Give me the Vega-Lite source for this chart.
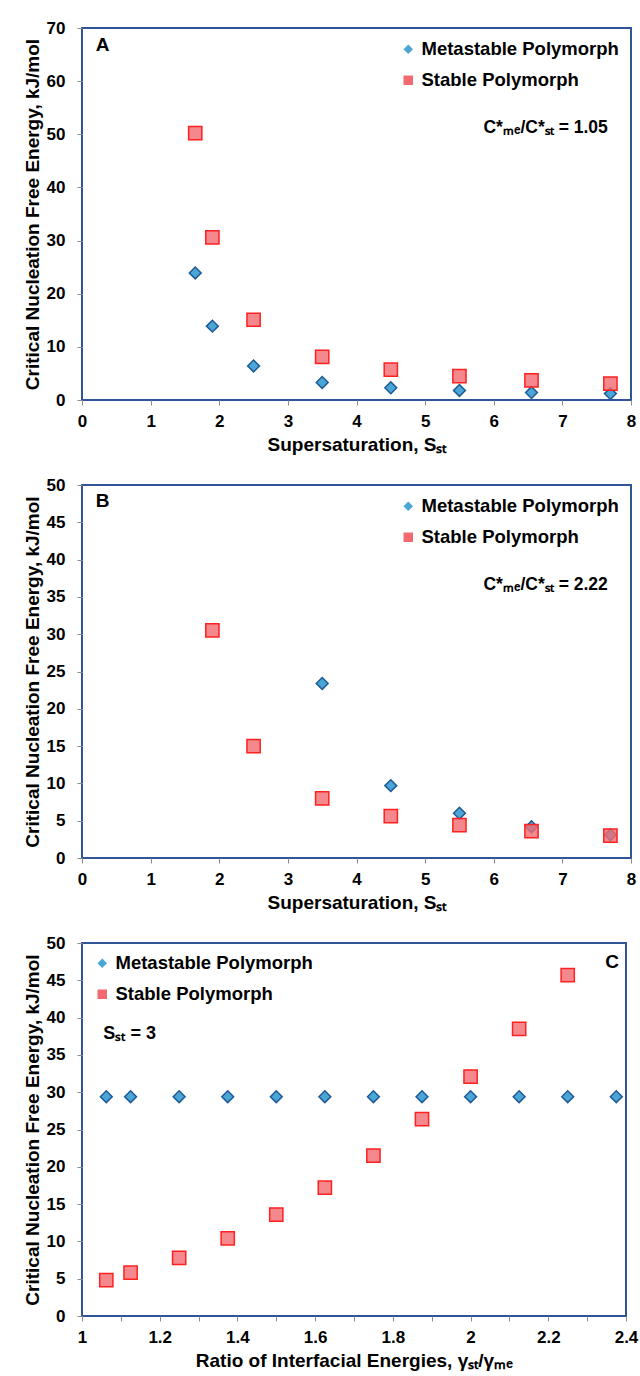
{
  "$schema": "https://vega.github.io/schema/vega-lite/v6.json",
  "background": "white",
  "padding": {"left": 22, "top": 18, "right": 0, "bottom": 0},
  "spacing": 20,
  "datasets": {
    "A": [
      {"series": "Metastable Polymorph", "S": 1.65, "G": 23.9},
      {"series": "Metastable Polymorph", "S": 1.9, "G": 13.9},
      {"series": "Metastable Polymorph", "S": 2.5, "G": 6.4},
      {"series": "Metastable Polymorph", "S": 3.5, "G": 3.3},
      {"series": "Metastable Polymorph", "S": 4.5, "G": 2.3},
      {"series": "Metastable Polymorph", "S": 5.5, "G": 1.8},
      {"series": "Metastable Polymorph", "S": 6.55, "G": 1.4},
      {"series": "Metastable Polymorph", "S": 7.7, "G": 1.2},
      {"series": "Stable Polymorph", "S": 1.65, "G": 50.2},
      {"series": "Stable Polymorph", "S": 1.9, "G": 30.6},
      {"series": "Stable Polymorph", "S": 2.5, "G": 15.1},
      {"series": "Stable Polymorph", "S": 3.5, "G": 8.1},
      {"series": "Stable Polymorph", "S": 4.5, "G": 5.7},
      {"series": "Stable Polymorph", "S": 5.5, "G": 4.5},
      {"series": "Stable Polymorph", "S": 6.55, "G": 3.7},
      {"series": "Stable Polymorph", "S": 7.7, "G": 3.1}
    ],
    "B": [
      {"series": "Metastable Polymorph", "S": 3.5, "G": 23.4},
      {"series": "Metastable Polymorph", "S": 4.5, "G": 9.7},
      {"series": "Metastable Polymorph", "S": 5.5, "G": 6.0},
      {"series": "Metastable Polymorph", "S": 6.55, "G": 4.2},
      {"series": "Metastable Polymorph", "S": 7.7, "G": 3.1},
      {"series": "Stable Polymorph", "S": 1.9, "G": 30.5},
      {"series": "Stable Polymorph", "S": 2.5, "G": 15.0},
      {"series": "Stable Polymorph", "S": 3.5, "G": 8.0},
      {"series": "Stable Polymorph", "S": 4.5, "G": 5.6},
      {"series": "Stable Polymorph", "S": 5.5, "G": 4.4},
      {"series": "Stable Polymorph", "S": 6.55, "G": 3.6},
      {"series": "Stable Polymorph", "S": 7.7, "G": 3.0}
    ],
    "C": [
      {"series": "Metastable Polymorph", "R": 1.0625, "G": 29.4},
      {"series": "Metastable Polymorph", "R": 1.125, "G": 29.4},
      {"series": "Metastable Polymorph", "R": 1.25, "G": 29.4},
      {"series": "Metastable Polymorph", "R": 1.375, "G": 29.4},
      {"series": "Metastable Polymorph", "R": 1.5, "G": 29.4},
      {"series": "Metastable Polymorph", "R": 1.625, "G": 29.4},
      {"series": "Metastable Polymorph", "R": 1.75, "G": 29.4},
      {"series": "Metastable Polymorph", "R": 1.875, "G": 29.4},
      {"series": "Metastable Polymorph", "R": 2.0, "G": 29.4},
      {"series": "Metastable Polymorph", "R": 2.125, "G": 29.4},
      {"series": "Metastable Polymorph", "R": 2.25, "G": 29.4},
      {"series": "Metastable Polymorph", "R": 2.375, "G": 29.4},
      {"series": "Stable Polymorph", "R": 1.0625, "G": 4.8},
      {"series": "Stable Polymorph", "R": 1.125, "G": 5.8},
      {"series": "Stable Polymorph", "R": 1.25, "G": 7.8},
      {"series": "Stable Polymorph", "R": 1.375, "G": 10.4},
      {"series": "Stable Polymorph", "R": 1.5, "G": 13.6},
      {"series": "Stable Polymorph", "R": 1.625, "G": 17.2},
      {"series": "Stable Polymorph", "R": 1.75, "G": 21.5},
      {"series": "Stable Polymorph", "R": 1.875, "G": 26.4},
      {"series": "Stable Polymorph", "R": 2.0, "G": 32.1},
      {"series": "Stable Polymorph", "R": 2.125, "G": 38.5},
      {"series": "Stable Polymorph", "R": 2.25, "G": 45.7}
    ]
  },
  "vconcat": [
    {
      "width": 549,
      "height": 372,
      "layer": [
        {
          "data": {"name": "A"},
          "transform": [{"filter": "datum.series === 'Metastable Polymorph'"}],
          "mark": {"type": "point", "filled": true, "size": 140, "stroke": "#1F5A92", "strokeWidth": 1.5, "opacity": 1},
          "encoding": {
            "x": {"field": "S", "type": "quantitative", "scale": {"domain": [0, 8], "nice": false}, "axis": {"values": [0, 1, 2, 3, 4, 5, 6, 7, 8], "format": "d", "title": "Supersaturation, Sₛₜ"}},
            "y": {"field": "G", "type": "quantitative", "scale": {"domain": [0, 70], "nice": false}, "axis": {"values": [0, 10, 20, 30, 40, 50, 60, 70], "format": "d", "title": "Critical Nucleation Free Energy, kJ/mol"}},
            "color": {"field": "series", "type": "nominal", "scale": {"domain": ["Metastable Polymorph", "Stable Polymorph"], "range": ["#4BA6D8", "#F26A70"]}, "legend": {"orient": "top-right"}},
            "shape": {"field": "series", "type": "nominal", "scale": {"domain": ["Metastable Polymorph", "Stable Polymorph"], "range": ["diamond", "square"]}, "legend": {"orient": "top-right"}}
          }
        },
        {
          "data": {"name": "A"},
          "transform": [{"filter": "datum.series === 'Stable Polymorph'"}],
          "mark": {"type": "point", "filled": true, "size": 175, "stroke": "#FF2020", "strokeWidth": 1.5, "fillOpacity": 0.8},
          "encoding": {
            "x": {"field": "S", "type": "quantitative", "scale": {"domain": [0, 8], "nice": false}, "axis": {"values": [0, 1, 2, 3, 4, 5, 6, 7, 8], "format": "d", "title": "Supersaturation, Sₛₜ"}},
            "y": {"field": "G", "type": "quantitative", "scale": {"domain": [0, 70], "nice": false}, "axis": {"values": [0, 10, 20, 30, 40, 50, 60, 70], "format": "d", "title": "Critical Nucleation Free Energy, kJ/mol"}},
            "color": {"field": "series", "type": "nominal", "scale": {"domain": ["Metastable Polymorph", "Stable Polymorph"], "range": ["#4BA6D8", "#F26A70"]}, "legend": {"orient": "top-right"}},
            "shape": {"field": "series", "type": "nominal", "scale": {"domain": ["Metastable Polymorph", "Stable Polymorph"], "range": ["diamond", "square"]}, "legend": {"orient": "top-right"}}
          }
        },
        {
          "data": {"values": [{}]},
          "mark": {"type": "text", "align": "left", "baseline": "middle", "fontSize": 19, "fontWeight": "bold", "font": "Liberation Sans", "color": "#000"},
          "encoding": {
            "x": {"datum": 0.2, "type": "quantitative", "scale": {"domain": [0, 8], "nice": false}, "axis": {"values": [0, 1, 2, 3, 4, 5, 6, 7, 8], "format": "d", "title": "Supersaturation, Sₛₜ"}},
            "y": {"datum": 66.8, "type": "quantitative", "scale": {"domain": [0, 70], "nice": false}, "axis": {"values": [0, 10, 20, 30, 40, 50, 60, 70], "format": "d", "title": "Critical Nucleation Free Energy, kJ/mol"}},
            "text": {"value": "A"}
          }
        },
        {
          "data": {"values": [{}]},
          "mark": {"type": "text", "align": "left", "baseline": "middle", "fontSize": 17.5, "fontWeight": "bold", "font": "Liberation Sans", "color": "#000"},
          "encoding": {
            "x": {"datum": 5.85, "type": "quantitative", "scale": {"domain": [0, 8], "nice": false}, "axis": {"values": [0, 1, 2, 3, 4, 5, 6, 7, 8], "format": "d", "title": "Supersaturation, Sₛₜ"}},
            "y": {"datum": 51.2, "type": "quantitative", "scale": {"domain": [0, 70], "nice": false}, "axis": {"values": [0, 10, 20, 30, 40, 50, 60, 70], "format": "d", "title": "Critical Nucleation Free Energy, kJ/mol"}},
            "text": {"value": "C*ₘₑ/C*ₛₜ = 1.05"}
          }
        }
      ]
    },
    {
      "width": 549,
      "height": 373,
      "layer": [
        {
          "data": {"name": "B"},
          "transform": [{"filter": "datum.series === 'Metastable Polymorph'"}],
          "mark": {"type": "point", "filled": true, "size": 140, "stroke": "#1F5A92", "strokeWidth": 1.5, "opacity": 1},
          "encoding": {
            "x": {"field": "S", "type": "quantitative", "scale": {"domain": [0, 8], "nice": false}, "axis": {"values": [0, 1, 2, 3, 4, 5, 6, 7, 8], "format": "d", "title": "Supersaturation, Sₛₜ"}},
            "y": {"field": "G", "type": "quantitative", "scale": {"domain": [0, 50], "nice": false}, "axis": {"values": [0, 5, 10, 15, 20, 25, 30, 35, 40, 45, 50], "format": "d", "title": "Critical Nucleation Free Energy, kJ/mol"}},
            "color": {"field": "series", "type": "nominal", "scale": {"domain": ["Metastable Polymorph", "Stable Polymorph"], "range": ["#4BA6D8", "#F26A70"]}, "legend": {"orient": "top-right"}},
            "shape": {"field": "series", "type": "nominal", "scale": {"domain": ["Metastable Polymorph", "Stable Polymorph"], "range": ["diamond", "square"]}, "legend": {"orient": "top-right"}}
          }
        },
        {
          "data": {"name": "B"},
          "transform": [{"filter": "datum.series === 'Stable Polymorph'"}],
          "mark": {"type": "point", "filled": true, "size": 175, "stroke": "#FF2020", "strokeWidth": 1.5, "fillOpacity": 0.8},
          "encoding": {
            "x": {"field": "S", "type": "quantitative", "scale": {"domain": [0, 8], "nice": false}, "axis": {"values": [0, 1, 2, 3, 4, 5, 6, 7, 8], "format": "d", "title": "Supersaturation, Sₛₜ"}},
            "y": {"field": "G", "type": "quantitative", "scale": {"domain": [0, 50], "nice": false}, "axis": {"values": [0, 5, 10, 15, 20, 25, 30, 35, 40, 45, 50], "format": "d", "title": "Critical Nucleation Free Energy, kJ/mol"}},
            "color": {"field": "series", "type": "nominal", "scale": {"domain": ["Metastable Polymorph", "Stable Polymorph"], "range": ["#4BA6D8", "#F26A70"]}, "legend": {"orient": "top-right"}},
            "shape": {"field": "series", "type": "nominal", "scale": {"domain": ["Metastable Polymorph", "Stable Polymorph"], "range": ["diamond", "square"]}, "legend": {"orient": "top-right"}}
          }
        },
        {
          "data": {"values": [{}]},
          "mark": {"type": "text", "align": "left", "baseline": "middle", "fontSize": 19, "fontWeight": "bold", "font": "Liberation Sans", "color": "#000"},
          "encoding": {
            "x": {"datum": 0.2, "type": "quantitative", "scale": {"domain": [0, 8], "nice": false}, "axis": {"values": [0, 1, 2, 3, 4, 5, 6, 7, 8], "format": "d", "title": "Supersaturation, Sₛₜ"}},
            "y": {"datum": 47.8, "type": "quantitative", "scale": {"domain": [0, 50], "nice": false}, "axis": {"values": [0, 5, 10, 15, 20, 25, 30, 35, 40, 45, 50], "format": "d", "title": "Critical Nucleation Free Energy, kJ/mol"}},
            "text": {"value": "B"}
          }
        },
        {
          "data": {"values": [{}]},
          "mark": {"type": "text", "align": "left", "baseline": "middle", "fontSize": 17.5, "fontWeight": "bold", "font": "Liberation Sans", "color": "#000"},
          "encoding": {
            "x": {"datum": 5.85, "type": "quantitative", "scale": {"domain": [0, 8], "nice": false}, "axis": {"values": [0, 1, 2, 3, 4, 5, 6, 7, 8], "format": "d", "title": "Supersaturation, Sₛₜ"}},
            "y": {"datum": 36.6, "type": "quantitative", "scale": {"domain": [0, 50], "nice": false}, "axis": {"values": [0, 5, 10, 15, 20, 25, 30, 35, 40, 45, 50], "format": "d", "title": "Critical Nucleation Free Energy, kJ/mol"}},
            "text": {"value": "C*ₘₑ/C*ₛₜ = 2.22"}
          }
        }
      ]
    },
    {
      "width": 544,
      "height": 373,
      "layer": [
        {
          "data": {"name": "C"},
          "transform": [{"filter": "datum.series === 'Metastable Polymorph'"}],
          "mark": {"type": "point", "filled": true, "size": 140, "stroke": "#1F5A92", "strokeWidth": 1.5, "opacity": 1},
          "encoding": {
            "x": {"field": "R", "type": "quantitative", "scale": {"domain": [1, 2.4], "nice": false, "zero": false}, "axis": {"values": [1, 1.1, 1.2, 1.3, 1.4, 1.5, 1.6, 1.7, 1.8, 1.9, 2, 2.1, 2.2, 2.3, 2.4], "format": "~g", "labelExpr": "abs(datum.value * 5 - round(datum.value * 5)) < 0.01 ? datum.label : ''", "title": "Ratio of Interfacial Energies, γₛₜ/γₘₑ"}},
            "y": {"field": "G", "type": "quantitative", "scale": {"domain": [0, 50], "nice": false}, "axis": {"values": [0, 5, 10, 15, 20, 25, 30, 35, 40, 45, 50], "format": "d", "title": "Critical Nucleation Free Energy, kJ/mol"}},
            "color": {"field": "series", "type": "nominal", "scale": {"domain": ["Metastable Polymorph", "Stable Polymorph"], "range": ["#4BA6D8", "#F26A70"]}, "legend": {"orient": "top-left", "offset": 11}},
            "shape": {"field": "series", "type": "nominal", "scale": {"domain": ["Metastable Polymorph", "Stable Polymorph"], "range": ["diamond", "square"]}, "legend": {"orient": "top-left", "offset": 11}}
          }
        },
        {
          "data": {"name": "C"},
          "transform": [{"filter": "datum.series === 'Stable Polymorph'"}],
          "mark": {"type": "point", "filled": true, "size": 175, "stroke": "#FF2020", "strokeWidth": 1.5, "fillOpacity": 0.8},
          "encoding": {
            "x": {"field": "R", "type": "quantitative", "scale": {"domain": [1, 2.4], "nice": false, "zero": false}, "axis": {"values": [1, 1.1, 1.2, 1.3, 1.4, 1.5, 1.6, 1.7, 1.8, 1.9, 2, 2.1, 2.2, 2.3, 2.4], "format": "~g", "labelExpr": "abs(datum.value * 5 - round(datum.value * 5)) < 0.01 ? datum.label : ''", "title": "Ratio of Interfacial Energies, γₛₜ/γₘₑ"}},
            "y": {"field": "G", "type": "quantitative", "scale": {"domain": [0, 50], "nice": false}, "axis": {"values": [0, 5, 10, 15, 20, 25, 30, 35, 40, 45, 50], "format": "d", "title": "Critical Nucleation Free Energy, kJ/mol"}},
            "color": {"field": "series", "type": "nominal", "scale": {"domain": ["Metastable Polymorph", "Stable Polymorph"], "range": ["#4BA6D8", "#F26A70"]}, "legend": {"orient": "top-left", "offset": 11}},
            "shape": {"field": "series", "type": "nominal", "scale": {"domain": ["Metastable Polymorph", "Stable Polymorph"], "range": ["diamond", "square"]}, "legend": {"orient": "top-left", "offset": 11}}
          }
        },
        {
          "data": {"values": [{}]},
          "mark": {"type": "text", "align": "right", "baseline": "middle", "fontSize": 19, "fontWeight": "bold", "font": "Liberation Sans", "color": "#000"},
          "encoding": {
            "x": {"datum": 2.382, "type": "quantitative", "scale": {"domain": [1, 2.4], "nice": false, "zero": false}, "axis": {"values": [1, 1.1, 1.2, 1.3, 1.4, 1.5, 1.6, 1.7, 1.8, 1.9, 2, 2.1, 2.2, 2.3, 2.4], "format": "~g", "labelExpr": "abs(datum.value * 5 - round(datum.value * 5)) < 0.01 ? datum.label : ''", "title": "Ratio of Interfacial Energies, γₛₜ/γₘₑ"}},
            "y": {"datum": 47.5, "type": "quantitative", "scale": {"domain": [0, 50], "nice": false}, "axis": {"values": [0, 5, 10, 15, 20, 25, 30, 35, 40, 45, 50], "format": "d", "title": "Critical Nucleation Free Energy, kJ/mol"}},
            "text": {"value": "C"}
          }
        },
        {
          "data": {"values": [{}]},
          "mark": {"type": "text", "align": "left", "baseline": "middle", "fontSize": 18, "fontWeight": "bold", "font": "Liberation Sans", "color": "#000"},
          "encoding": {
            "x": {"datum": 1.055, "type": "quantitative", "scale": {"domain": [1, 2.4], "nice": false, "zero": false}, "axis": {"values": [1, 1.1, 1.2, 1.3, 1.4, 1.5, 1.6, 1.7, 1.8, 1.9, 2, 2.1, 2.2, 2.3, 2.4], "format": "~g", "labelExpr": "abs(datum.value * 5 - round(datum.value * 5)) < 0.01 ? datum.label : ''", "title": "Ratio of Interfacial Energies, γₛₜ/γₘₑ"}},
            "y": {"datum": 37.8, "type": "quantitative", "scale": {"domain": [0, 50], "nice": false}, "axis": {"values": [0, 5, 10, 15, 20, 25, 30, 35, 40, 45, 50], "format": "d", "title": "Critical Nucleation Free Energy, kJ/mol"}},
            "text": {"value": "Sₛₜ = 3"}
          }
        }
      ]
    }
  ],
  "resolve": {
    "scale": {"x": "independent", "y": "independent", "color": "independent", "shape": "independent"},
    "legend": {"color": "independent", "shape": "independent"}
  },
  "config": {
    "font": "Liberation Sans",
    "view": {"stroke": "#2F5597", "strokeWidth": 2},
    "axis": {
      "labelFont": "Liberation Sans",
      "labelFontSize": 17,
      "labelFontWeight": "bold",
      "labelColor": "#000",
      "titleFont": "Liberation Sans",
      "titleFontSize": 19,
      "titleFontWeight": "bold",
      "titleColor": "#000",
      "domain": false,
      "grid": false,
      "ticks": true,
      "tickColor": "#8c8c8c",
      "tickSize": 5,
      "labelFlush": false,
      "labelOverlap": false
    },
    "axisY": {"labelPadding": 12, "titlePadding": 4},
    "axisX": {"labelPadding": 8, "titlePadding": 6},
    "legend": {
      "title": null,
      "offset": 12,
      "padding": 0,
      "labelFont": "Liberation Sans",
      "labelFontSize": 18.5,
      "labelFontWeight": "bold",
      "labelColor": "#000",
      "labelLimit": 400,
      "symbolSize": 90,
      "symbolStrokeWidth": 0,
      "rowPadding": 12,
      "labelOffset": 4
    }
  }
}
